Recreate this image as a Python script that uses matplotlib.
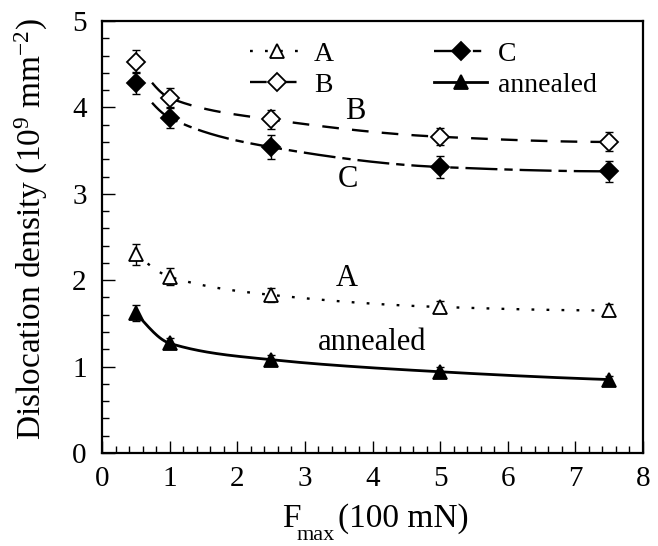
import numpy as np
import matplotlib
matplotlib.use("Agg")
import matplotlib.pyplot as plt
from matplotlib.ticker import MultipleLocator

plt.rcParams['font.family'] = ['Liberation Serif', 'DejaVu Serif']
plt.rcParams['mathtext.fontset'] = 'custom'
plt.rcParams['mathtext.rm'] = 'Liberation Serif'
plt.rcParams['mathtext.it'] = 'Liberation Serif:italic'
plt.rcParams['lines.scale_dashes'] = False

# Data
f_max = [0.5, 1.0, 2.5, 5.0, 7.5]
rho_A = [2.30, 2.04, 1.83, 1.69, 1.65]
rho_B = [4.53, 4.11, 3.86, 3.66, 3.60]
rho_C = [4.28, 3.88, 3.54, 3.31, 3.26]
rho_ann = [1.62, 1.27, 1.08, 0.94, 0.85]
err_A = [0.12, 0.10, 0.08, 0.07, 0.07]
err_B = [0.13, 0.12, 0.11, 0.10, 0.11]
err_C = [0.13, 0.12, 0.14, 0.13, 0.125]
err_ann = [0.09, 0.06, 0.05, 0.05, 0.04]
labels = ["A", "B", "C", "annealed"]

W, H = 658, 546
fig = plt.figure(figsize=(W / 100, H / 100), dpi=100)
ax = fig.add_axes([102 / W, 1 - 453 / H, 541 / W, 432 / H])

x = np.array(f_max)


def pchip(xk, yk, xs):
    xk = np.asarray(xk, float)
    yk = np.asarray(yk, float)
    h = np.diff(xk)
    d = np.diff(yk) / h
    n = len(xk)
    m = np.zeros(n)
    for k in range(1, n - 1):
        if d[k - 1] * d[k] <= 0:
            m[k] = 0.0
        else:
            w1 = 2 * h[k] + h[k - 1]
            w2 = h[k] + 2 * h[k - 1]
            m[k] = (w1 + w2) / (w1 / d[k - 1] + w2 / d[k])
    m0 = ((2 * h[0] + h[1]) * d[0] - h[0] * d[1]) / (h[0] + h[1])
    if np.sign(m0) != np.sign(d[0]):
        m0 = 0.0
    m[0] = m0
    mn = ((2 * h[-1] + h[-2]) * d[-1] - h[-1] * d[-2]) / (h[-1] + h[-2])
    if np.sign(mn) != np.sign(d[-1]):
        mn = 0.0
    m[-1] = mn
    idx = np.clip(np.searchsorted(xk, xs) - 1, 0, n - 2)
    t = (xs - xk[idx]) / h[idx]
    h00 = 2 * t**3 - 3 * t**2 + 1
    h10 = t**3 - 2 * t**2 + t
    h01 = -2 * t**3 + 3 * t**2
    h11 = t**3 - t**2
    return (h00 * yk[idx] + h10 * h[idx] * m[idx] + h01 * yk[idx + 1]
            + h11 * h[idx] * m[idx + 1])


series = [
    (rho_A, err_A, '^', 'white', 9.5, dict(dashes=(2, 8.8)), 1.7, 0.5),
    (rho_B, err_B, 'D', 'white', 8.7, dict(dashes=(12, 9.5)), 1.7, 0.74),
    (rho_C, err_C, 'D', 'black', 8.7, dict(dashes=(23, 5, 6, 5)), 1.7, 0.74),
    (rho_ann, err_ann, '^', 'black', 10.5, dict(linestyle='-'), 2.0, 0.5),
]

handles = []
for y, e, mk, mfc, ms, ls, lw, x0 in series:
    xs = np.linspace(x0, 7.5, 400)
    ax.plot(xs, pchip(x, y, xs), color='black', lw=lw, zorder=2, **ls)
    ax.errorbar(x, y, yerr=e, fmt='none', ecolor='black', elinewidth=1.0,
                capsize=3.2, capthick=1.0, zorder=3)
    ax.plot(x, y, linestyle='none', marker=mk, ms=ms, mfc=mfc, mec='black',
            mew=1.3, zorder=4)
    h, = ax.plot([], [], color='black', lw=lw, marker=mk, ms=ms, mfc=mfc,
                 mec='black', mew=1.3, **ls)
    handles.append(h)

ax.legend(handles, labels, ncol=2, frameon=False,
          fontsize=20, loc='upper left', bbox_to_anchor=(0.274, 0.952),
          borderpad=0, borderaxespad=0,
          handlelength=1.9, handletextpad=0.4, columnspacing=3.6,
          labelspacing=0.2)

ax.text(3.75, 3.87, "B", fontsize=22, ha='center', va='baseline')
ax.text(3.64, 3.08, "C", fontsize=22, ha='center', va='baseline')
ax.text(3.62, 1.93, "A", fontsize=22, ha='center', va='baseline')
ax.text(4.00, 1.19, "annealed", fontsize=22, ha='center', va='baseline')

ax.set_xlim(0, 8)
ax.set_ylim(0, 5)
ax.xaxis.set_major_locator(MultipleLocator(1))
ax.xaxis.set_minor_locator(MultipleLocator(0.2))
ax.yaxis.set_major_locator(MultipleLocator(1))
ax.yaxis.set_minor_locator(MultipleLocator(0.2))
ax.tick_params(which='both', direction='in', top=False, right=False,
               labelsize=21, width=1.0)
ax.tick_params(axis='x', which='major', length=9, pad=9)
ax.tick_params(axis='y', which='major', length=9, pad=11)
ax.tick_params(which='minor', length=5)
for s in ax.spines.values():
    s.set_linewidth(1.6)

# x label: F with a low subscript "max", then (100 mN)
fig.text(282 / W, 1 - 527 / H, "F", fontsize=24, ha='left', va='baseline')
fig.text(297 / W, 1 - 540 / H, "max", fontsize=16, ha='left', va='baseline')
fig.text(338 / W, 1 - 527 / H, "(100 mN)", fontsize=24, ha='left',
         va='baseline')

fig.text(31 / W, 1 - 229 / H, r"Dislocation density (10$^{9}$ mm$^{-2}$)",
         fontsize=24, rotation=90, ha='center', va='center')

fig.savefig("out.png", dpi=100)
